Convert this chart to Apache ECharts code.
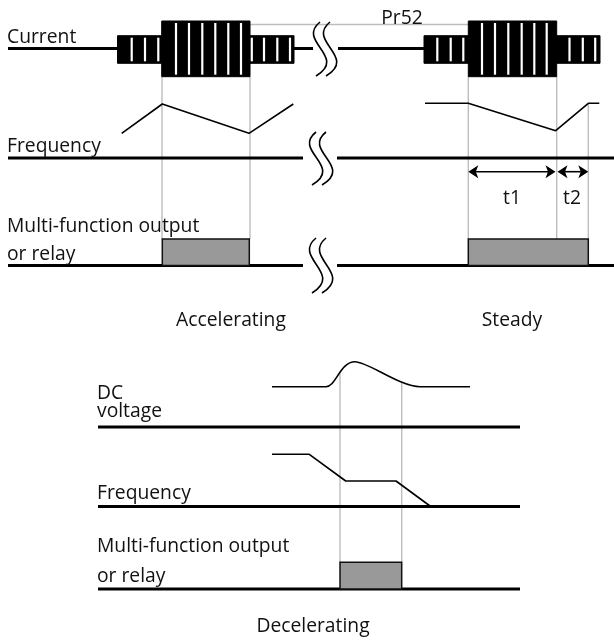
<!DOCTYPE html>
<html>
<head>
<meta charset="utf-8">
<script src="https://cdn.jsdelivr.net/npm/echarts@6/dist/echarts.min.js"></script>
<style>
  html, body { margin: 0; padding: 0; background: #fff; }
  #chart { width: 614px; height: 641px; }
</style>
</head>
<body>
<div id="chart"></div>
<script>
// Timing diagram: time runs along x, each signal row sits at its own y level.

// Signal baselines: [xStart, xEnd, y]
const rowBaselines = [
  [8, 117.5, 48.5], [294, 313, 48.5], [338, 424, 48.5],
  [8, 303, 158], [337, 614, 158],
  [8, 303, 265.5], [337, 614, 265.5],
  [98, 520, 427], [98, 520, 506.5], [98, 520, 589]
];

// Current envelope blocks: [xStart, xEnd, yTop, yBottom]
const bandSpans = [
  [117.5, 161.7, 35.7, 63.3], [161.7, 250, 21, 76.7], [250, 294, 35.7, 63.3],
  [424, 468.3, 35.7, 63.3], [468.3, 556.7, 21, 76.7], [556.7, 600, 35.7, 63.3]
];
// White stripes inside each current block (x positions)
const bandStripes = [
  [131.7, 145, 158.3],
  [176, 189, 202.3, 215.3, 228.3, 241],
  [251.8, 264, 277.3, 290],
  [437.3, 450.7, 463.3],
  [482, 495, 508.3, 521.7, 534.3, 546.7],
  [569.5, 582.8, 595.2]
];

// Frequency traces: [x, y]
const freqAccel = [[121.7, 133.3], [162.3, 104], [249, 133.3], [293.3, 104]];
const freqSteady = [[425, 103.3], [468.3, 103.3], [555.7, 130.7], [588.3, 103.3], [599.3, 103.3]];
const freqDecel = [[272, 454.3], [309.3, 454.3], [345.7, 481], [396, 481], [430.7, 506.5]];

// DC link voltage bump, as cubic segments: [x0, y0, cx1, cy1, cx2, cy2, x1, y1]
const dcVoltage = [
  [272, 386.7, 290, 386.7, 308, 386.7, 326, 386.7],
  [326, 386.7, 336, 386.7, 340, 361.7, 355, 361.7],
  [355, 361.7, 368, 361.7, 400, 386.7, 420, 386.7],
  [420, 386.7, 437, 386.7, 453, 386.7, 470, 386.7]
];

// Relay output pulses: [xStart, xEnd, yTop, yBottom]
const relayPulses = [
  [162.3, 249.3, 239, 265.5], [468.3, 588.3, 239, 265.5], [340, 401.7, 562.3, 589]
];

// Thin grey guides: vertical [x, yTop, yBottom]
const guideVertical = [
  [162, 76.7, 239], [250, 76.7, 239], [468.3, 76.7, 239], [556.7, 76.7, 239],
  [588.3, 103.3, 239], [340, 374, 562.3], [401.7, 382, 562.3]
];
// horizontal [xStart, xEnd, y]
const guideHorizontal = [[250, 468.3, 24.5]];

// Time-break marks: [xTop, yTop, yBottom]
const breakMarks = [[320, 22, 76], [316, 132, 185], [316, 238, 293]];

// Interval arrows: [xStart, xEnd, y]
const spanArrows = [[468.3, 555.5, 171.7], [557.5, 588.3, 171.7]];

// Text: [text, x, baselineY, align]
const labels = [
  ['Current', 7, 42, 'left'],
  ['Pr52', 402, 23, 'center'],
  ['Frequency', 7, 151, 'left'],
  ['t1', 512, 203, 'center'],
  ['t2', 572, 203, 'center'],
  ['Multi-function output', 7, 231.5, 'left'],
  ['or relay', 7, 259, 'left'],
  ['Accelerating', 231, 325, 'center'],
  ['Steady', 512, 325, 'center'],
  ['DC', 97, 398, 'left'],
  ['voltage', 97, 416, 'left'],
  ['Frequency', 97, 498, 'left'],
  ['Multi-function output', 97, 551, 'left'],
  ['or relay', 97, 581, 'left'],
  ['Decelerating', 313, 631, 'center']
];

const FONT = '"Open Sans", "Liberation Sans", sans-serif';
const FONT_SIZE = 19.3;
const DESCENT = 5;
const INK = '#000';
const GUIDE = '#bdbdbd';

const chart = echarts.init(document.getElementById('chart'), null, { renderer: 'canvas' });

function traceSeries(data) {
  return {
    type: 'line',
    data: data,
    showSymbol: false,
    silent: true,
    lineStyle: { color: INK, width: 1.6 },
    z: 5
  };
}

chart.setOption({
  animation: false,
  backgroundColor: '#fff',
  grid: { left: 0, right: 0, top: 0, bottom: 0 },
  xAxis: { type: 'value', min: 0, max: 614, show: false },
  yAxis: { type: 'value', min: 0, max: 641, inverse: true, show: false },
  series: [
    // grey guides
    {
      type: 'custom', silent: true, z: 1,
      data: guideVertical,
      renderItem: function (params, api) {
        const a = api.coord([api.value(0), api.value(1)]);
        const b = api.coord([api.value(0), api.value(2)]);
        return { type: 'line', shape: { x1: a[0], y1: a[1], x2: b[0], y2: b[1] },
          style: { stroke: GUIDE, lineWidth: 1.4 } };
      }
    },
    {
      type: 'custom', silent: true, z: 1,
      data: guideHorizontal,
      renderItem: function (params, api) {
        const a = api.coord([api.value(0), api.value(2)]);
        const b = api.coord([api.value(1), api.value(2)]);
        return { type: 'line', shape: { x1: a[0], y1: a[1], x2: b[0], y2: b[1] },
          style: { stroke: GUIDE, lineWidth: 1.4 } };
      }
    },
    // signal baselines
    {
      type: 'custom', silent: true, z: 3,
      data: rowBaselines,
      renderItem: function (params, api) {
        const a = api.coord([api.value(0), api.value(2)]);
        const b = api.coord([api.value(1), api.value(2)]);
        return { type: 'line', shape: { x1: a[0], y1: a[1], x2: b[0], y2: b[1] },
          style: { stroke: INK, lineWidth: 3 } };
      }
    },
    // current blocks with stripes
    {
      type: 'custom', silent: true, z: 4,
      data: bandSpans,
      renderItem: function (params, api) {
        const tl = api.coord([api.value(0), api.value(2)]);
        const br = api.coord([api.value(1), api.value(3)]);
        const children = [{
          type: 'rect',
          shape: { x: tl[0], y: tl[1], width: br[0] - tl[0], height: br[1] - tl[1] },
          style: { fill: INK, stroke: INK, lineWidth: 1 }
        }];
        bandStripes[params.dataIndex].forEach(function (sx) {
          const p = api.coord([sx, api.value(2)]);
          children.push({
            type: 'rect',
            shape: { x: p[0] - 1.1, y: tl[1] + 2, width: 2.2, height: br[1] - tl[1] - 4 },
            style: { fill: '#fff' }
          });
        });
        return { type: 'group', children: children };
      }
    },
    // relay pulses
    {
      type: 'custom', silent: true, z: 4,
      data: relayPulses,
      renderItem: function (params, api) {
        const tl = api.coord([api.value(0), api.value(2)]);
        const br = api.coord([api.value(1), api.value(3)]);
        return {
          type: 'rect',
          shape: { x: tl[0], y: tl[1], width: br[0] - tl[0], height: br[1] - tl[1] },
          style: { fill: '#999999', stroke: '#111', lineWidth: 1.5 }
        };
      }
    },
    // frequency waveforms
    traceSeries(freqAccel),
    traceSeries(freqSteady),
    traceSeries(freqDecel),
    // DC voltage curve
    {
      type: 'custom', silent: true, z: 5,
      data: dcVoltage,
      renderItem: function (params, api) {
        const p0 = api.coord([api.value(0), api.value(1)]);
        const c1 = api.coord([api.value(2), api.value(3)]);
        const c2 = api.coord([api.value(4), api.value(5)]);
        const p1 = api.coord([api.value(6), api.value(7)]);
        return {
          type: 'bezierCurve',
          shape: { x1: p0[0], y1: p0[1], cpx1: c1[0], cpy1: c1[1], cpx2: c2[0], cpy2: c2[1], x2: p1[0], y2: p1[1] },
          style: { stroke: INK, lineWidth: 1.6, fill: null }
        };
      }
    },
    // time-break marks
    {
      type: 'custom', silent: true, z: 6,
      data: breakMarks,
      renderItem: function (params, api) {
        const top = api.coord([api.value(0), api.value(1)]);
        const bot = api.coord([api.value(0), api.value(2)]);
        const h = bot[1] - top[1];
        const children = [];
        [0, 10].forEach(function (dx) {
          const x = top[0] + dx;
          children.push({
            type: 'bezierCurve',
            shape: {
              x1: x, y1: top[1],
              cpx1: x - 24, cpy1: top[1] + h * 0.36,
              cpx2: x + 28, cpy2: top[1] + h * 0.64,
              x2: x - 4, y2: bot[1]
            },
            style: { stroke: INK, lineWidth: 1.6, fill: null }
          });
        });
        return { type: 'group', children: children };
      }
    },
    // interval arrows
    {
      type: 'custom', silent: true, z: 6,
      data: spanArrows,
      renderItem: function (params, api) {
        const a = api.coord([api.value(0), api.value(2)]);
        const b = api.coord([api.value(1), api.value(2)]);
        const L = 10, H = 6.5;
        return {
          type: 'group',
          children: [
            { type: 'line', shape: { x1: a[0] + 4, y1: a[1], x2: b[0] - 4, y2: b[1] },
              style: { stroke: INK, lineWidth: 1.6 } },
            { type: 'polygon', shape: { points: [[a[0], a[1]], [a[0] + L, a[1] - H], [a[0] + L - 2.5, a[1]], [a[0] + L, a[1] + H]] },
              style: { fill: INK } },
            { type: 'polygon', shape: { points: [[b[0], b[1]], [b[0] - L, b[1] - H], [b[0] - L + 2.5, b[1]], [b[0] - L, b[1] + H]] },
              style: { fill: INK } }
          ]
        };
      }
    },
    // text
    {
      type: 'custom', silent: true, z: 10,
      data: labels.map(function (l) { return [l[1], l[2]]; }),
      renderItem: function (params, api) {
        const l = labels[params.dataIndex];
        const p = api.coord([api.value(0), api.value(1)]);
        return {
          type: 'text',
          x: p[0], y: p[1] + DESCENT,
          style: {
            text: l[0], fill: '#111',
            font: 'normal ' + FONT_SIZE + 'px ' + FONT,
            align: l[3], verticalAlign: 'bottom'
          }
        };
      }
    }
  ]
});
</script>
</body>
</html>
